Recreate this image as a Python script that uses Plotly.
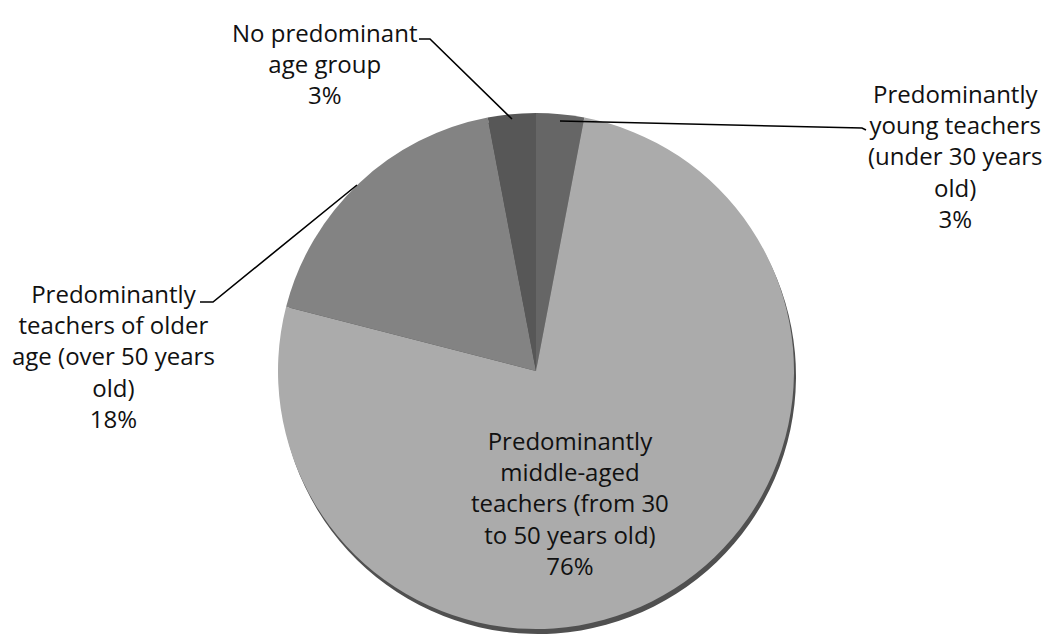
import plotly.graph_objects as go

categories = [
    "Predominantly young teachers (under 30 years old)",
    "Predominantly middle-aged teachers (from 30 to 50 years old)",
    "Predominantly teachers of older age (over 50 years old)",
    "No predominant age group",
]
values = [3, 76, 18, 3]
label_texts = [
    "Predominantly<br>young teachers<br>(under 30 years<br>old)<br>3%",
    "Predominantly<br>middle-aged<br>teachers (from 30<br>to 50 years old)<br>76%",
    "Predominantly<br>teachers of older<br>age (over 50 years<br>old)<br>18%",
    "No predominant<br>age group<br>3%",
]
colors = ["#666666", "#ababab", "#838383", "#575757"]

W, H = 1043, 637
cx, cy, r = 536, 371, 258


def px(x):
    return x / W


def py(y):
    return 1 - y / H


fig = go.Figure()

# shadow rim (3D look)
fig.add_trace(go.Pie(
    values=values, labels=categories, sort=False, direction="clockwise",
    marker=dict(colors=["#505050"] * len(values), line=dict(width=0)),
    textinfo="none", hoverinfo="skip", showlegend=False,
    domain=dict(x=[px(cx - r + 2), px(cx + r + 2)], y=[py(cy + r + 5), py(cy - r + 5)]),
))

fig.add_trace(go.Pie(
    values=values, labels=categories, sort=False, direction="clockwise", rotation=0,
    marker=dict(colors=colors, line=dict(width=0)),
    textinfo="none", showlegend=False,
    domain=dict(x=[px(cx - r), px(cx + r)], y=[py(cy + r), py(cy - r)]),
))

font = dict(family="Open Sans, sans-serif", size=24, color="#111111")
label_pos = [(955, 156), (570, 503), (113, 356), (324, 64)]
for txt, (x, y) in zip(label_texts, label_pos):
    fig.add_annotation(x=px(x), y=py(y), xref="paper", yref="paper", text=txt,
                       showarrow=False, align="center", font=font,
                       xanchor="center", yanchor="middle")

leaders = [
    [(560, 121), (862, 128), (866, 130)],
    [(357, 185), (213, 302), (200, 302)],
    [(512, 119), (430, 39), (419, 39)],
]
for pts in leaders:
    path = "M " + " L ".join(f"{px(x)},{py(y)}" for x, y in pts)
    fig.add_shape(type="path", path=path, xref="paper", yref="paper",
                  line=dict(color="#000000", width=1.6))

fig.update_layout(
    width=W, height=H, margin=dict(l=0, r=0, t=0, b=0),
    paper_bgcolor="white", plot_bgcolor="white", showlegend=False,
)

fig.write_html("out.html", config={"displayModeBar": False},
               post_script="document.body.style.margin='0px';document.body.style.overflow='hidden';")
